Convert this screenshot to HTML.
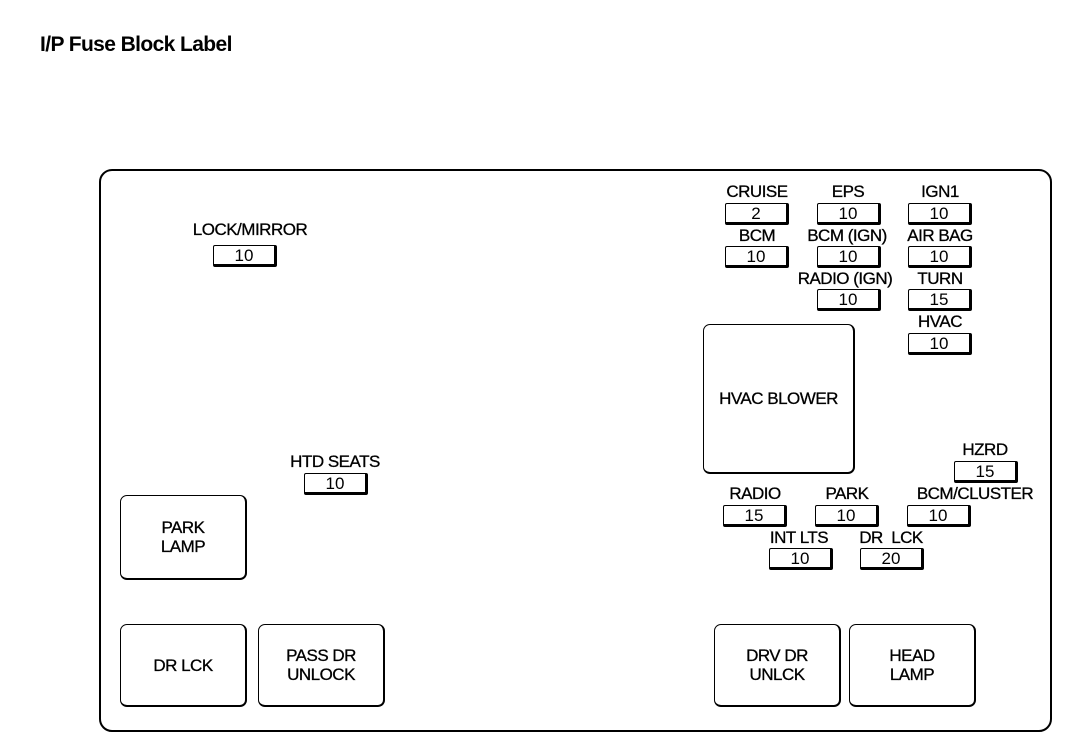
<!DOCTYPE html>
<html><head><style>
body{margin:0;width:1088px;height:754px;background:#fff;position:relative;font-family:"Liberation Sans",Arial,sans-serif;color:#000;overflow:hidden}
.t{position:absolute;left:40px;top:33px;font-size:21px;font-weight:bold;letter-spacing:-0.6px}
.main{position:absolute;left:99px;top:169px;width:949px;height:559px;border:2px solid #000;border-radius:13px}
.f{position:absolute;width:60px;height:18px;border:1.5px solid #000;border-right-width:3px;border-bottom-width:3px;border-radius:2px;font-size:17px;line-height:20px;text-align:center}
.l{position:absolute;font-size:17px;line-height:18px;text-align:center;width:160px;margin-left:-80px;white-space:nowrap;letter-spacing:-0.5px;-webkit-text-stroke:0.3px #000}
.r{position:absolute;border:1.5px solid #000;border-right-width:2.5px;border-bottom-width:2.5px;border-radius:7px;display:flex;align-items:center;justify-content:center;text-align:center;font-size:17px;line-height:19px;letter-spacing:-0.5px;-webkit-text-stroke:0.3px #000}
</style></head><body>
<div class="t">I/P Fuse Block Label</div>
<div class="main"></div>

<div class="l" style="left:757px;top:183px">CRUISE</div><div class="f" style="left:725px;top:203px">2</div>
<div class="l" style="left:848px;top:183px">EPS</div><div class="f" style="left:817px;top:203px">10</div>
<div class="l" style="left:940px;top:183px">IGN1</div><div class="f" style="left:908px;top:203px">10</div>
<div class="l" style="left:757px;top:227px">BCM</div><div class="f" style="left:725px;top:246px">10</div>
<div class="l" style="left:847px;top:227px">BCM (IGN)</div><div class="f" style="left:817px;top:246px">10</div>
<div class="l" style="left:940px;top:227px">AIR BAG</div><div class="f" style="left:908px;top:246px">10</div>
<div class="l" style="left:845px;top:270px">RADIO (IGN)</div><div class="f" style="left:817px;top:289px">10</div>
<div class="l" style="left:940px;top:270px">TURN</div><div class="f" style="left:908px;top:289px">15</div>
<div class="l" style="left:940px;top:313px">HVAC</div><div class="f" style="left:908px;top:333px">10</div>
<div class="l" style="left:250px;top:221px">LOCK/MIRROR</div><div class="f" style="left:213px;top:245px">10</div>
<div class="l" style="left:335px;top:453px">HTD SEATS</div><div class="f" style="left:304px;top:473px">10</div>
<div class="l" style="left:985px;top:441px">HZRD</div><div class="f" style="left:954px;top:461px">15</div>
<div class="l" style="left:755px;top:485px">RADIO</div><div class="f" style="left:723px;top:505px">15</div>
<div class="l" style="left:847px;top:485px">PARK</div><div class="f" style="left:815px;top:505px">10</div>
<div class="l" style="left:975px;top:485px">BCM/CLUSTER</div><div class="f" style="left:907px;top:505px">10</div>
<div class="l" style="left:799px;top:529px">INT LTS</div><div class="f" style="left:769px;top:548px">10</div>
<div class="l" style="left:891px;top:529px">DR&nbsp;&nbsp;LCK</div><div class="f" style="left:860px;top:548px">20</div>

<div class="r" style="left:703px;top:324px;width:149px;height:147px">HVAC BLOWER</div>
<div class="r" style="left:120px;top:495px;width:124px;height:82px">PARK<br>LAMP</div>
<div class="r" style="left:120px;top:624px;width:124px;height:80px">DR LCK</div>
<div class="r" style="left:258px;top:624px;width:124px;height:80px">PASS DR<br>UNLOCK</div>
<div class="r" style="left:714px;top:624px;width:124px;height:80px">DRV DR<br>UNLCK</div>
<div class="r" style="left:849px;top:624px;width:124px;height:80px">HEAD<br>LAMP</div>
</body></html>
